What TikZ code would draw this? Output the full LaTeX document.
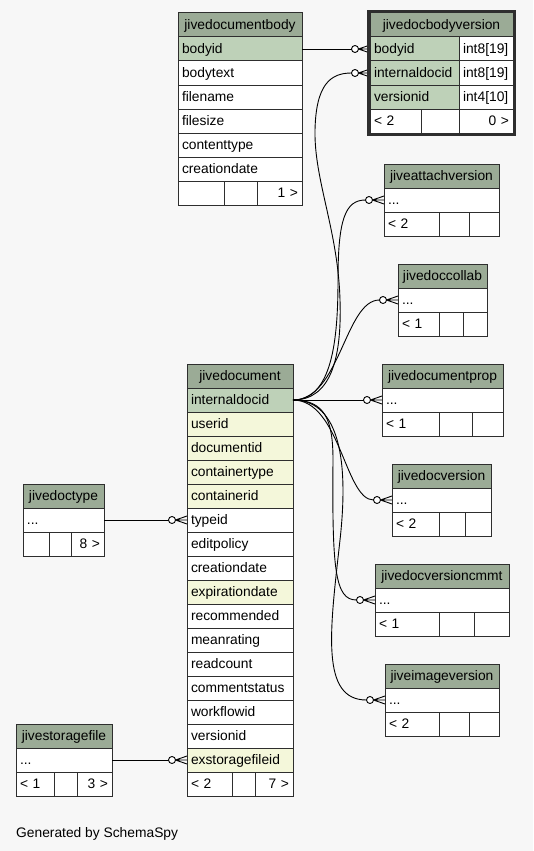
\documentclass[tikz,border=0pt]{standalone}
\usepackage{fontspec}
\setmainfont{Liberation Sans}
\usepackage{tikz}
\newcommand\tabfont{\fontsize{13.8pt}{16pt}\selectfont}
\definecolor{bgfill}{HTML}{F7F7F7}
\definecolor{headfill}{HTML}{9BAB96}
\definecolor{keyfill}{HTML}{BED1B8}
\definecolor{idxfill}{HTML}{F4F7DA}
\definecolor{boxline}{HTML}{2E2E2E}
\tikzset{
  tcell/.style={draw=boxline, line width=1pt, fill=white, anchor=north west, inner xsep=4pt, inner ysep=0pt,
    outer sep=0pt, minimum height=24pt, text height=10.5pt, text depth=2pt, align=left, font=\tabfont},
  thead/.style={tcell, fill=headfill, align=center},
  tfoot/.style={tcell, fill=white, align=right},
  fk/.style={draw=black, line width=0.9pt, shorten >=18.5pt},
  crowfoot/.pic={
    \draw[line width=0.9pt, fill=white] (-15,0) circle (3.5pt);
    \draw[line width=0.9pt] (-11.5,0) -- (0,0) (-11.5,0) -- (0,-4) (-11.5,0) -- (0,4);
  }
}
\begin{document}
\begin{tikzpicture}[x=1pt,y=-1pt]
\useasboundingbox (0,0) rectangle (533,851);
\fill[bgfill] (0,0) rectangle (533,851);

% jivedocumentbody
\node[thead, text width=116pt] (dbody) at (178,13) {jivedocumentbody};
\foreach \f/\c [count=\i] in {bodyid/keyfill, bodytext/white, filename/white, filesize/white, contenttype/white, creationdate/white}
  \node[tcell, fill=\c, text width=116pt] (dbody-\f) at (178,{13+24*\i}) {\f};
\node[tcell, text width=38pt] (dbody-f1) at (178,181) {};
\node[tcell, text width=25pt] (dbody-f2) at (224,181) {};
\node[tfoot, text width=37pt] (dbody-f3) at (257,181) {1 >};

% jivedocbodyversion
\node[thead, text width=135pt] (bver) at (370,13) {jivedocbodyversion};
\foreach \f/\t [count=\i] in {bodyid/int8[19], internaldocid/int8[19], versionid/int4[10]} {
  \node[tcell, fill=keyfill, text width=81pt] (bver-\f) at (370,{13+24*\i}) {\f};
  \node[tcell, text width=46pt] (bver-\f-type) at (459,{13+24*\i}) {\t};
}
\node[tcell, text width=43pt] (bver-f1) at (370,109) {< 2};
\node[tcell, text width=30pt] (bver-f2) at (421,109) {};
\node[tfoot, text width=46pt] (bver-f3) at (459,109) {0 >};

% jiveattachversion
\node[thead, text width=107pt] (attach) at (384,164) {jiveattachversion};
\node[tcell, text width=107pt] (attach-row) at (384,188) {...};
\node[tcell, text width=47pt] (attach-f1) at (384,212) {< 2};
\node[tcell, text width=22pt] (attach-f2) at (439,212) {};
\node[tfoot, text width=22pt] (attach-f3) at (469,212) {};

% jivedoccollab
\node[thead, text width=81pt] (collab) at (398,264) {jivedoccollab};
\node[tcell, text width=81pt] (collab-row) at (398,288) {...};
\node[tcell, text width=33pt] (collab-f1) at (398,312) {< 1};
\node[tcell, text width=16pt] (collab-f2) at (439,312) {};
\node[tfoot, text width=16pt] (collab-f3) at (463,312) {};

% jivedocumentprop
\node[thead, text width=113pt] (prop) at (382,364) {jivedocumentprop};
\node[tcell, text width=113pt] (prop-row) at (382,388) {...};
\node[tcell, text width=49pt] (prop-f1) at (382,412) {< 1};
\node[tcell, text width=25pt] (prop-f2) at (439,412) {};
\node[tfoot, text width=23pt] (prop-f3) at (472,412) {};

% jivedocversion
\node[thead, text width=91pt] (dver) at (392,464) {jivedocversion};
\node[tcell, text width=91pt] (dver-row) at (392,488) {...};
\node[tcell, text width=39pt] (dver-f1) at (392,512) {< 2};
\node[tcell, text width=18pt] (dver-f2) at (439,512) {};
\node[tfoot, text width=18pt] (dver-f3) at (465,512) {};

% jivedocversioncmmt
\node[thead, text width=126pt] (cmmt) at (375,564) {jivedocversioncmmt};
\node[tcell, text width=126pt] (cmmt-row) at (375,588) {...};
\node[tcell, text width=56pt] (cmmt-f1) at (375,612) {< 1};
\node[tcell, text width=27pt] (cmmt-f2) at (439,612) {};
\node[tfoot, text width=27pt] (cmmt-f3) at (474,612) {};

% jiveimageversion
\node[thead, text width=106pt] (img) at (385,664) {jiveimageversion};
\node[tcell, text width=106pt] (img-row) at (385,688) {...};
\node[tcell, text width=46pt] (img-f1) at (385,712) {< 2};
\node[tcell, text width=22pt] (img-f2) at (439,712) {};
\node[tfoot, text width=22pt] (img-f3) at (469,712) {};

% jivedocument
\node[thead, text width=98pt] (doc) at (187,364) {jivedocument};
\foreach \f/\c [count=\i] in {internaldocid/keyfill, userid/idxfill, documentid/idxfill, containertype/idxfill,
    containerid/idxfill, typeid/white, editpolicy/white, creationdate/white, expirationdate/idxfill,
    recommended/white, meanrating/white, readcount/white, commentstatus/white, workflowid/white,
    versionid/white, exstoragefileid/idxfill}
  \node[tcell, fill=\c, text width=98pt] (doc-\f) at (187,{364+24*\i}) {\f};
\node[tcell, text width=37pt] (doc-f1) at (187,772) {< 2};
\node[tcell, text width=15pt] (doc-f2) at (232,772) {};
\node[tfoot, text width=30pt] (doc-f3) at (255,772) {7 >};

% jivedoctype
\node[thead, text width=73pt] (dtype) at (23,484) {jivedoctype};
\node[tcell, text width=73pt] (dtype-row) at (23,508) {...};
\node[tcell, text width=18pt] (dtype-f1) at (23,532) {};
\node[tcell, text width=14pt] (dtype-f2) at (49,532) {};
\node[tfoot, text width=25pt] (dtype-f3) at (71,532) {8 >};

% jivestoragefile
\node[thead, text width=88pt] (store) at (16,724) {jivestoragefile};
\node[tcell, text width=88pt] (store-row) at (16,748) {...};
\node[tcell, text width=30pt] (store-f1) at (16,772) {< 1};
\node[tcell, text width=15pt] (store-f2) at (54,772) {};
\node[tfoot, text width=27pt] (store-f3) at (77,772) {3 >};

% relations
\draw[fk] (dbody-bodyid.east) -- (bver-bodyid.west);
\draw[fk] (doc-internaldocid.east) .. controls (330,400) and (342,360) .. (340,300)
  .. controls (338,230) and (314,180) .. (315,130) .. controls (316,85) and (330,73) .. (bver-internaldocid.west);
\draw[fk] (doc-internaldocid.east) .. controls (332,400) and (338,340) .. (338,280)
  .. controls (338,220) and (345,200) .. (attach-row.west);
\draw[fk] (doc-internaldocid.east) .. controls (340,400) and (345,300) .. (collab-row.west);
\draw[fk] (doc-internaldocid.east) -- (prop-row.west);
\draw[fk] (doc-internaldocid.east) .. controls (340,400) and (345,500) .. (dver-row.west);
\draw[fk] (doc-internaldocid.east) .. controls (325,400) and (333,420) .. (333,460)
  .. controls (332,570) and (335,600) .. (cmmt-row.west);
\draw[fk] (doc-internaldocid.east) .. controls (335,400) and (350,450) .. (340,540)
  .. controls (330,630) and (320,700) .. (img-row.west);
\draw[fk] (dtype-row.east) -- (doc-typeid.west);
\draw[fk] (store-row.east) -- (doc-exstoragefileid.west);
\foreach \t in {bver-bodyid, bver-internaldocid, attach-row, collab-row, prop-row, dver-row, cmmt-row, img-row,
    doc-typeid, doc-exstoragefileid}
  \pic at (\t.west) {crowfoot};

% focus frame
\draw[boxline, line width=3pt] (368.5,11.5) rectangle (514.5,134.5);

\node[font=\tabfont, anchor=base west, inner sep=0pt] (credit) at (16,837) {Generated by SchemaSpy};
\end{tikzpicture}
\end{document}
